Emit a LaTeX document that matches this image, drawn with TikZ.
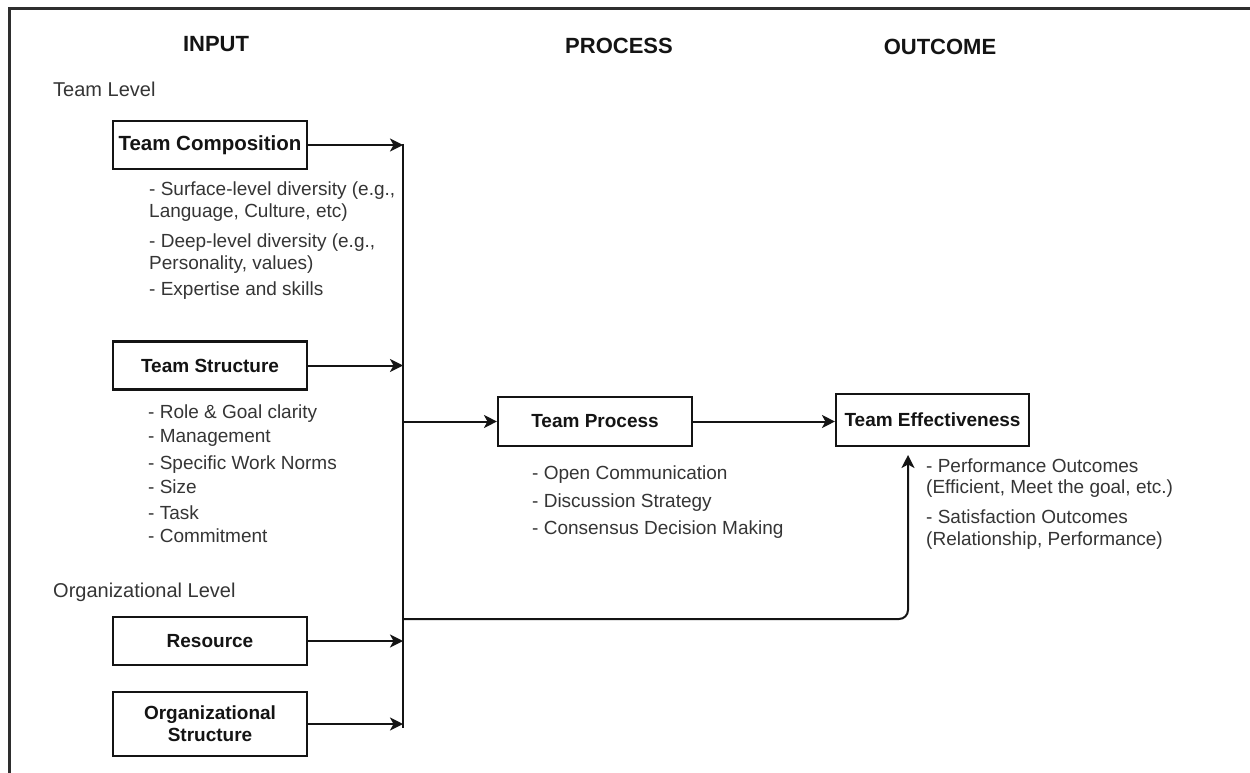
\documentclass[tikz,border=0pt]{standalone}
\usepackage{fontspec}
\setmainfont{Liberation Sans}
\usetikzlibrary{arrows.meta}
\definecolor{ink}{HTML}{141414}
\definecolor{txt}{HTML}{353535}
\definecolor{framec}{HTML}{2E2E2E}
\begin{document}
\begin{tikzpicture}[x=1pt,y=-1pt,
  box/.style={draw=ink, line width=2.1pt, minimum width=194pt, minimum height=48pt,
    inner sep=2pt, font=\fontsize{19}{22}\selectfont\bfseries, text=ink, align=center},
  head/.style={font=\fontsize{22}{26}\selectfont\bfseries, text=ink, anchor=base, inner sep=0pt},
  lvl/.style={font=\fontsize{20}{24}\selectfont, text=txt, anchor=base west, inner sep=0pt},
  item/.style={font=\fontsize{19}{22}\selectfont, text=txt, anchor=base west, inner sep=0pt},
  link/.style={draw=ink, line width=2pt, -{Stealth[length=13pt,width=13pt,inset=3.5pt]}},
  busline/.style={draw=ink, line width=2pt},
]
% page area and outer frame
\fill[white] (0,0) rectangle (1250,773);
\useasboundingbox (0,0) rectangle (1250,773);
\draw[framec, line width=3pt] (9.5,780) -- (9.5,8.5) -- (1260,8.5);

% column headings
\node[head] (hIn)  at (216,52) {INPUT};
\node[head] (hPr)  at (619,54) {PROCESS};
\node[head] (hOut) at (940,55) {OUTCOME};

% level captions
\node[lvl] (lvTeam) at (53,96.5) {Team Level};
\node[lvl] (lvOrg)  at (53,597) {Organizational Level};

% input boxes
\node[box, font=\fontsize{20.5}{24}\selectfont\bfseries, inner sep=1pt] (tc) at (210,145) {Team Composition};
\node[box] (ts)  at (210,365.5) {Team Structure};
\node[box] (res) at (210,641) {Resource};
\node[box, minimum height=64pt] (os) at (210,724) {Organizational\\[0pt]Structure};

% process and outcome boxes
\node[box, minimum height=49pt] (tp) at (595,421.5) {Team Process};
\node[box, minimum width=193pt, minimum height=52pt] (te) at (932.5,420) {Team Effectiveness};

% team composition items
\node[item] (tc1) at (149,195) {- Surface-level diversity (e.g.,};
\node[item] (tc2) at (149,217) {Language, Culture, etc)};
\node[item] (tc3) at (149,247) {- Deep-level diversity (e.g.,};
\node[item] (tc4) at (149,269) {Personality, values)};
\node[item] (tc5) at (149,295) {- Expertise and skills};

% team structure items
\node[item] (ts1) at (148,418) {- Role \& Goal clarity};
\node[item] (ts2) at (148,442) {- Management};
\node[item] (ts3) at (148,469) {- Specific Work Norms};
\node[item] (ts4) at (148,493) {- Size};
\node[item] (ts5) at (148,519) {- Task};
\node[item] (ts6) at (148,542) {- Commitment};

% process items
\node[item] (tp1) at (532,479) {- Open Communication};
\node[item] (tp2) at (532,507) {- Discussion Strategy};
\node[item] (tp3) at (532,534) {- Consensus Decision Making};

% outcome items
\node[item] (te1) at (926,472) {- Performance Outcomes};
\node[item] (te2) at (926,493) {(Efficient, Meet the goal, etc.)};
\node[item] (te3) at (926,523) {- Satisfaction Outcomes};
\node[item] (te4) at (926,545) {(Relationship, Performance)};

% collecting bus
\coordinate (busTop) at (403,144);
\coordinate (busBot) at (403,728);
\coordinate (busOut) at (403,619);
\coordinate (teIn)   at (908,455);
\draw[busline] (busTop) -- (busBot);

% inputs into the bus
\draw[link] (tc.east)  -- (tc.east -| busTop);
\draw[link] (ts.east)  -- (ts.east -| busTop);
\draw[link] (res.east) -- (res.east -| busTop);
\draw[link] (os.east)  -- (os.east -| busTop);

% bus to process, process to outcome
\draw[link] (tp.west -| busTop) -- (tp.west);
\draw[link] (tp.east) -- (tp.east -| te.west);

% direct path from inputs to outcome
\draw[link, rounded corners=9pt] (busOut) -| (teIn);
\end{tikzpicture}
\end{document}
